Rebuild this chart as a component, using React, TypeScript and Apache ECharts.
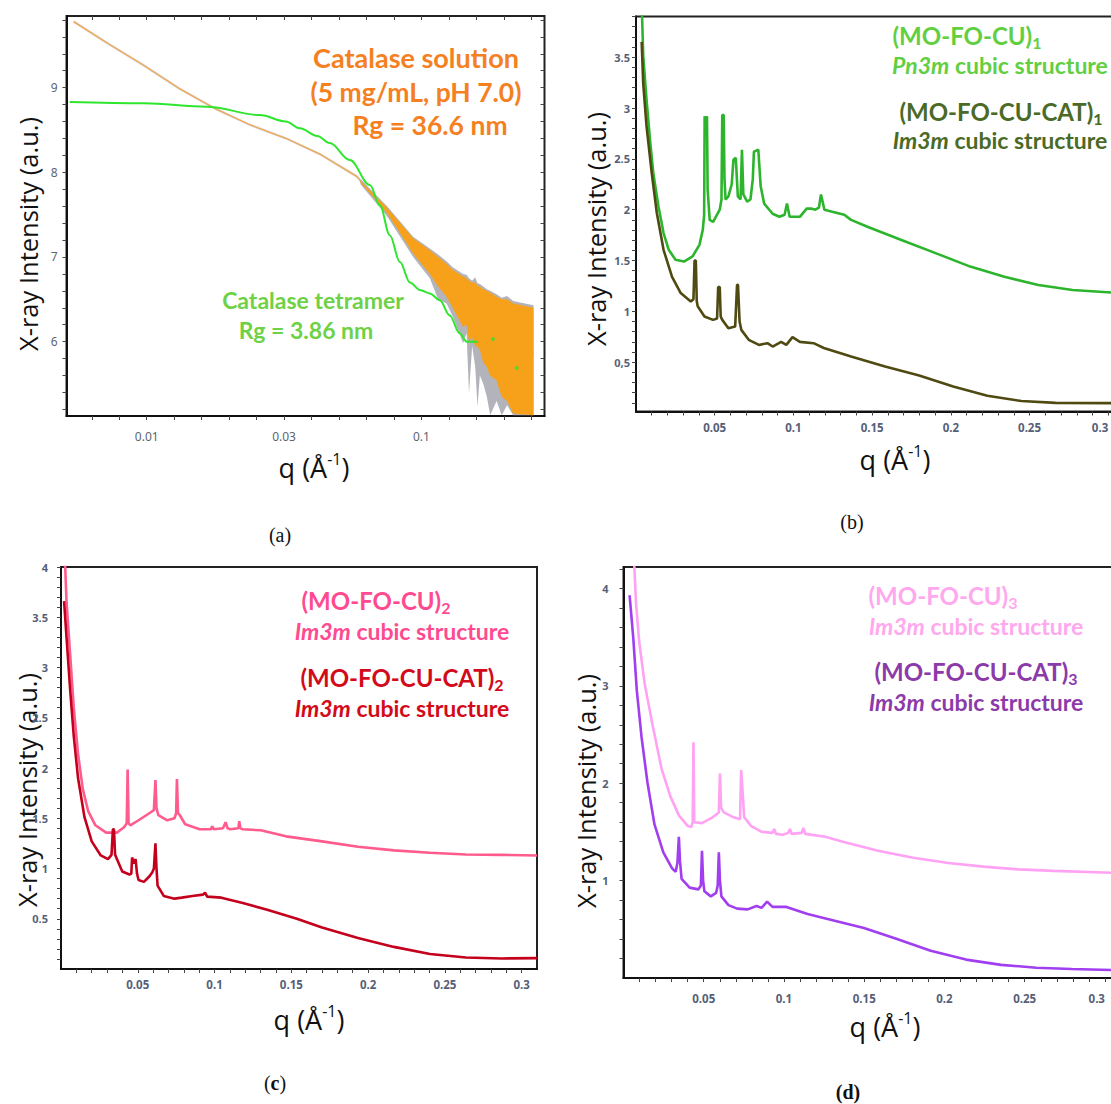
import React, { useEffect, useRef } from "react";
import * as echarts from "echarts";

// ---------- Panel (a): catalase solution vs. tetramer model (q on a log scale) ----------
const qSolution = [0.00542, 0.0072, 0.00971, 0.01309, 0.01765, 0.02383, 0.03208, 0.04325, 0.0583, 0.07194, 0.0914, 0.1233, 0.1663, 0.2244, 0.2559];
const iSolution = [9.78, 9.524, 9.268, 8.992, 8.756, 8.559, 8.402, 8.205, 7.949, 7.594, 7.15, 6.74, 6.3, 5.95, 5.85];

// scatter envelope of the measured solution curve at high q
const qNoise = [0.06, 0.075, 0.0933, 0.1073, 0.115, 0.1234, 0.13, 0.1418, 0.146, 0.149, 0.153, 0.157, 0.16, 0.1632, 0.168, 0.173, 0.178, 0.1877, 0.196, 0.205, 0.2157, 0.2559];
const noiseGrayTop = [7.92, 7.6, 7.24, 7.1, 7.03, 6.95, 6.88, 6.8, 6.79, 6.75, 6.72, 6.76, 6.69, 6.68, 6.65, 6.62, 6.6, 6.56, 6.52, 6.54, 6.48, 6.43];
const noiseGrayBottom = [7.86, 7.48, 7.0, 6.75, 6.5, 6.45, 6.3, 5.98, 6.1, 5.39, 5.95, 5.7, 5.23, 5.6, 5.5, 5.35, 5.13, 5.3, 5.13, 5.25, 5.13, 5.13];
const noiseOrangeTop = [7.9, 7.58, 7.22, 7.08, 7.0, 6.92, 6.85, 6.77, 6.75, 6.72, 6.7, 6.7, 6.66, 6.65, 6.62, 6.6, 6.58, 6.53, 6.5, 6.5, 6.45, 6.4];
const noiseOrangeBottom = [7.88, 7.52, 7.04, 6.8, 6.65, 6.53, 6.4, 6.17, 6.2, 6.0, 6.05, 5.95, 5.94, 5.9, 5.75, 5.7, 5.6, 5.54, 5.35, 5.3, 5.15, 5.13];

const qTetramer = [0.00525, 0.0098, 0.01655, 0.0258, 0.0321, 0.0361, 0.0418, 0.0464, 0.0549, 0.0649, 0.0706, 0.0767, 0.0835, 0.0908, 0.0987, 0.1072, 0.1166, 0.1268, 0.1378, 0.1462, 0.1603];
const iTetramer = [8.83, 8.815, 8.775, 8.676, 8.6, 8.52, 8.43, 8.345, 8.144, 7.849, 7.61, 7.258, 6.94, 6.7, 6.61, 6.57, 6.49, 6.31, 6.1, 6.0, 6.0];
const qTetramerTail = [0.182, 0.222];
const iTetramerTail = [6.03, 5.69];

const qLabelPosA = [-2, -1.5, -1];
const qLabelsA = ["0.01", "0.03", "0.1"];
const iLabelPosA = [6, 7, 8, 9];
const iLabelsA = ["6", "7", "8", "9"];

// ---------- Panel (b) ----------
const qCu1 = [0.0033, 0.0046, 0.0067, 0.0089, 0.011, 0.0143, 0.0175, 0.0208, 0.0251, 0.0305, 0.0359, 0.0403, 0.0424, 0.0433, 0.0436, 0.0445, 0.0451, 0.0455, 0.0468, 0.049, 0.0532, 0.0543, 0.0548, 0.0557, 0.0562, 0.0569, 0.0587, 0.0608, 0.0619, 0.0634, 0.0641, 0.0647, 0.0664, 0.0673, 0.0682, 0.0706, 0.0727, 0.0742, 0.0749, 0.0777, 0.0792, 0.0814, 0.0868, 0.0911, 0.0944, 0.0959, 0.0976, 0.1041, 0.1084, 0.1117, 0.1139, 0.1162, 0.1175, 0.1197, 0.1247, 0.1323, 0.1366, 0.1474, 0.169, 0.1907, 0.2123, 0.234, 0.2556, 0.2773, 0.3028, 0.31];
const iCu1 = [4.2, 3.51, 3.08, 2.69, 2.36, 2.03, 1.77, 1.605, 1.507, 1.49, 1.54, 1.654, 1.8, 1.95, 2.92, 2.85, 2.92, 2.2, 1.9, 1.88, 2.0, 2.1, 2.93, 2.93, 2.3, 2.1, 2.13, 2.25, 2.49, 2.51, 2.3, 2.13, 2.1, 2.59, 2.15, 2.08, 2.1, 2.3, 2.57, 2.59, 2.23, 2.06, 1.96, 1.93, 1.95, 2.06, 1.93, 1.93, 2.01, 2.01, 2.0, 2.02, 2.15, 2.0, 1.98, 1.95, 1.9, 1.83, 1.7, 1.57, 1.44, 1.34, 1.26, 1.21, 1.185, 1.18];
const qCat1 = [0.0036, 0.0046, 0.0067, 0.01, 0.0132, 0.0175, 0.0229, 0.0284, 0.0348, 0.0365, 0.0372, 0.038, 0.0386, 0.0392, 0.0435, 0.0489, 0.0515, 0.0522, 0.0532, 0.0538, 0.0548, 0.0587, 0.063, 0.0642, 0.0648, 0.0658, 0.0669, 0.0716, 0.0781, 0.0835, 0.0868, 0.0922, 0.0955, 0.0994, 0.1041, 0.1128, 0.1193, 0.1366, 0.1582, 0.1799, 0.2015, 0.2232, 0.2448, 0.2665, 0.3028, 0.31];
const iCat1 = [3.65, 3.24, 2.82, 2.36, 1.97, 1.605, 1.34, 1.18, 1.097, 1.12, 1.5, 1.5, 1.1, 1.05, 0.95, 0.916, 0.93, 1.24, 1.24, 0.95, 0.916, 0.834, 0.85, 1.26, 1.26, 0.9, 0.818, 0.72, 0.67, 0.687, 0.654, 0.7, 0.67, 0.746, 0.7, 0.687, 0.64, 0.556, 0.457, 0.37, 0.26, 0.17, 0.118, 0.1, 0.097, 0.097];
const iLabelPosB = [0.5, 1, 1.5, 2, 2.5, 3, 3.5];
const iLabelsB = ["0,5", "1", "1.5", "2", "2.5", "3", "3.5"];

// ---------- Panel (c) ----------
const qCu2 = [0.002, 0.0036, 0.006, 0.0083, 0.0111, 0.0142, 0.0177, 0.0224, 0.0294, 0.0364, 0.0411, 0.0428, 0.0434, 0.044, 0.0451, 0.0505, 0.0575, 0.0605, 0.0615, 0.0622, 0.0634, 0.0692, 0.0739, 0.075, 0.0755, 0.0762, 0.0774, 0.0809, 0.0903, 0.0975, 0.0985, 0.0995, 0.1055, 0.1072, 0.1085, 0.1102, 0.1155, 0.1161, 0.1168, 0.1184, 0.1301, 0.1465, 0.17, 0.1934, 0.2168, 0.2403, 0.2637, 0.2871, 0.31];
const iCu2 = [4.3, 3.65, 3.12, 2.6, 2.14, 1.79, 1.57, 1.43, 1.357, 1.357, 1.41, 1.45, 1.986, 1.45, 1.43, 1.48, 1.55, 1.58, 1.88, 1.6, 1.53, 1.48, 1.5, 1.55, 1.89, 1.55, 1.53, 1.44, 1.39, 1.39, 1.42, 1.39, 1.4, 1.46, 1.4, 1.39, 1.4, 1.47, 1.4, 1.39, 1.38, 1.32, 1.27, 1.217, 1.18, 1.157, 1.14, 1.136, 1.13];
const qCat2 = [0.002, 0.0036, 0.006, 0.0083, 0.0111, 0.0153, 0.02, 0.0259, 0.0306, 0.0329, 0.0338, 0.0345, 0.0352, 0.0364, 0.0399, 0.0446, 0.0458, 0.0463, 0.0475, 0.0486, 0.0495, 0.0505, 0.054, 0.0575, 0.0594, 0.0605, 0.0615, 0.0622, 0.0629, 0.0669, 0.0739, 0.0786, 0.0856, 0.0925, 0.0938, 0.0952, 0.1044, 0.1184, 0.1348, 0.1536, 0.17, 0.1934, 0.2168, 0.2403, 0.2637, 0.2871, 0.31];
const iCat2 = [3.66, 3.3, 2.77, 2.32, 1.9, 1.51, 1.27, 1.13, 1.094, 1.136, 1.39, 1.39, 1.14, 1.094, 0.97, 0.94, 0.95, 1.11, 1.05, 1.094, 0.95, 0.885, 0.867, 0.92, 0.96, 1.0, 1.25, 1.0, 0.83, 0.727, 0.7, 0.71, 0.727, 0.74, 0.76, 0.72, 0.71, 0.657, 0.587, 0.5, 0.413, 0.308, 0.22, 0.15, 0.115, 0.105, 0.108];
const iLabelPosC = [0.5, 1, 1.5, 2, 2.5, 3, 3.5, 4];
const iLabelsC = ["0.5", "1", "1.5", "2", "2.5", "3", "3.5", "4"];

// ---------- Panel (d) ----------
const qCu3 = [0.0064, 0.0078, 0.0098, 0.0132, 0.0182, 0.0237, 0.0292, 0.0346, 0.0401, 0.0423, 0.0431, 0.0436, 0.0441, 0.0489, 0.0555, 0.0594, 0.0601, 0.0608, 0.0625, 0.0686, 0.0726, 0.0733, 0.0739, 0.0752, 0.0796, 0.0862, 0.0928, 0.0939, 0.095, 0.0993, 0.1026, 0.1037, 0.1048, 0.111, 0.1121, 0.1132, 0.1257, 0.1366, 0.1586, 0.1805, 0.2024, 0.2243, 0.2463, 0.2682, 0.305, 0.31];
const iCu3 = [4.35, 3.85, 3.45, 3.02, 2.59, 2.15, 1.865, 1.667, 1.56, 1.55, 1.6, 2.42, 1.6, 1.59, 1.65, 1.7, 2.1, 1.75, 1.7, 1.65, 1.63, 2.135, 2.0, 1.65, 1.56, 1.5, 1.49, 1.53, 1.48, 1.47, 1.49, 1.53, 1.48, 1.49, 1.54, 1.48, 1.45, 1.4, 1.306, 1.234, 1.18, 1.144, 1.115, 1.1, 1.08, 1.08];
const qCat3 = [0.0038, 0.0061, 0.0083, 0.0112, 0.0149, 0.0193, 0.0248, 0.0303, 0.0325, 0.0336, 0.0345, 0.0352, 0.0362, 0.0412, 0.0467, 0.0482, 0.0489, 0.0496, 0.0504, 0.0544, 0.0577, 0.0587, 0.0594, 0.0601, 0.061, 0.0654, 0.0708, 0.0774, 0.0829, 0.086, 0.0895, 0.0928, 0.1015, 0.1147, 0.1322, 0.1498, 0.1695, 0.1914, 0.2134, 0.2353, 0.2572, 0.2792, 0.305, 0.31];
const iCat3 = [3.93, 3.49, 2.95, 2.48, 2.01, 1.577, 1.29, 1.126, 1.09, 1.18, 1.45, 1.2, 1.018, 0.928, 0.91, 0.95, 1.306, 1.0, 0.89, 0.838, 0.874, 0.95, 1.29, 1.0, 0.838, 0.748, 0.712, 0.705, 0.74, 0.72, 0.784, 0.73, 0.73, 0.658, 0.586, 0.514, 0.405, 0.279, 0.189, 0.135, 0.106, 0.092, 0.081, 0.08];
const iLabelPosD = [1, 2, 3, 4];
const iLabelsD = ["1", "2", "3", "4"];

// shared linear q axis labels for (b)-(d)
const qLabelPos = [0.05, 0.1, 0.15, 0.2, 0.25, 0.3];
const qLabels = ["0.05", "0.1", "0.15", "0.2", "0.25", "0.3"];

const FONT_NOTE = "Lato";
const FONT_AXIS = "Open Sans";
const FONT_TICK = "Noto Sans";
const FONT_PANEL = "Liberation Serif";

function steps(from: number, to: number, step: number): number[] {
  const out: number[] = [];
  for (let k = Math.round(from / step); k * step <= to + 1e-9; k++) out.push(+(k * step).toFixed(6));
  return out;
}

function lookup(v: number, pos: number[], texts: string[]) {
  const k = pos.findIndex((p) => Math.abs(p - v) < 1e-6);
  return k >= 0 ? texts[k] : "";
}

function pairs(xs: number[], ys: number[], logX = false) {
  const n = Math.min(xs.length, ys.length);
  const out: number[][] = [];
  for (let k = 0; k < n; k++) out.push([logX ? Math.log10(xs[k]) : xs[k], ys[k]]);
  return out;
}

type AxisOpts = {
  position: string;
  ticks: number[];
  labelPos?: number[];
  labels?: string[];
  margin?: number;
  inside?: boolean;
  line?: boolean;
  color?: string;
  weight?: string;
  fontSize?: number;
  alignLast?: string;
};

function axis(gridIndex: number, min: number, max: number, o: AxisOpts) {
  return {
    type: "value",
    gridIndex,
    min,
    max,
    position: o.position,
    axisLine: { show: o.line !== false, onZero: false, lineStyle: { color: "#111", width: 2 } },
    axisTick: { show: true, inside: !!o.inside, length: 4, customValues: o.ticks, lineStyle: { color: "#444", width: 1 } },
    axisLabel: o.labels
      ? {
          show: true,
          customValues: o.labelPos,
          formatter: (v: number) => lookup(v, o.labelPos!, o.labels!),
          margin: o.margin ?? 8,
          color: o.color ?? "#556078",
          fontWeight: o.weight ?? "bold",
          fontSize: o.fontSize ?? 11.5,
          fontFamily: FONT_TICK,
          ...(o.alignLast ? { alignMaxLabel: o.alignLast } : {}),
        }
      : { show: false },
    splitLine: { show: false },
  };
}

function line(xi: number, yi: number, data: number[][], color: string, width: number, extra: any = {}) {
  return {
    type: "line",
    xAxisIndex: xi,
    yAxisIndex: yi,
    data,
    symbol: "none",
    showSymbol: false,
    silent: true,
    lineStyle: { color, width },
    ...extra,
  };
}

// filled band between an upper and a lower edge, drawn in panel (a)'s coordinates
function band(q: number[], top: number[], bottom: number[], fill: string, opacity: number, z: number) {
  return {
    type: "custom",
    xAxisIndex: 0,
    yAxisIndex: 0,
    silent: true,
    z,
    data: [[Math.log10(q[0]), top[0]]],
    renderItem: (_p: any, api: any) => {
      const pts: number[][] = [];
      for (let k = 0; k < q.length; k++) pts.push(api.coord([Math.log10(q[k]), top[k]]));
      for (let k = q.length - 1; k >= 0; k--) pts.push(api.coord([Math.log10(q[k]), bottom[k]]));
      return { type: "polygon", shape: { points: pts }, style: { fill, opacity } };
    },
  };
}

function noteRich(color: string, big: number, small: number) {
  const base = { fontFamily: FONT_NOTE, fontWeight: "bold", fill: color };
  return {
    m: { ...base, fontSize: big, lineHeight: big + 6, verticalAlign: "middle" },
    s: { ...base, fontSize: Math.round(big * 0.65), lineHeight: 18, verticalAlign: "bottom" },
    i: { ...base, fontStyle: "italic", fontSize: small },
    n: { ...base, fontSize: small },
  };
}

function note(text: string, x: number, y: number, color: string, big = 24, small = 23) {
  return {
    type: "text",
    x,
    y,
    silent: true,
    style: { text, align: "center", verticalAlign: "middle", fill: color, rich: noteRich(color, big, small) },
  };
}

function yTitle(x: number, y: number) {
  return {
    type: "text",
    x,
    y,
    rotation: Math.PI / 2,
    silent: true,
    style: { text: "X-ray Intensity (a.u.)", align: "center", verticalAlign: "middle", fill: "#111", fontFamily: FONT_AXIS, fontSize: 25.5 },
  };
}

function qTitle(x: number, y: number) {
  return {
    type: "text",
    x,
    y,
    silent: true,
    style: {
      text: "{m|q (Å}{u|-1}{m|)}",
      align: "center",
      verticalAlign: "middle",
      fill: "#111",
      rich: {
        m: { fontFamily: FONT_AXIS, fontSize: 27, fill: "#111", lineHeight: 32, verticalAlign: "middle" },
        u: { fontFamily: FONT_AXIS, fontSize: 16, fill: "#111", lineHeight: 17, verticalAlign: "top" },
      },
    },
  };
}

function panelLetter(text: string, x: number, y: number) {
  return {
    type: "text",
    x,
    y,
    silent: true,
    style: {
      text,
      align: "center",
      verticalAlign: "middle",
      fill: "#111",
      rich: {
        r: { fontFamily: FONT_PANEL, fontSize: 20, fill: "#111" },
        b: { fontFamily: FONT_PANEL, fontSize: 20, fontWeight: "bold", fill: "#111" },
      },
    },
  };
}

function buildOption() {
  const grids = [
    { left: 66.5, top: 16, width: 478, height: 400 },
    { left: 636, top: 16.5, width: 488, height: 395 },
    { left: 61, top: 567, width: 476, height: 402 },
    { left: 623.5, top: 567, width: 497.5, height: 411 },
  ].map((g) => ({ ...g, show: true, borderColor: "#222", borderWidth: 2, backgroundColor: "transparent" }));

  const tickAX = steps(-2.2, -0.6, 0.1);
  const tickAY = steps(5.2, 9.8, 0.2);
  const tickQ = steps(0.01, 0.31, 0.01);

  const xAxis = [
    axis(0, -2.292, -0.552, { position: "bottom", ticks: tickAX, labelPos: qLabelPosA, labels: qLabelsA, margin: 14, color: "#5d6470", weight: "normal", fontSize: 12 }),
    axis(1, 0, 0.31, { position: "bottom", ticks: tickQ, labelPos: qLabelPos, labels: qLabels, margin: 10, alignLast: "right" }),
    axis(2, 0, 0.31, { position: "bottom", ticks: steps(0.01, 0.3, 0.01), labelPos: qLabelPos, labels: qLabels, margin: 9 }),
    axis(3, 0, 0.31, { position: "bottom", ticks: tickQ, labelPos: qLabelPos, labels: qLabels, margin: 14, alignLast: "right" }),
    axis(0, -2.292, -0.552, { position: "top", ticks: tickAX, inside: true, line: false }),
  ];
  const yAxis = [
    axis(0, 5.122, 9.846, { position: "left", ticks: tickAY, labelPos: iLabelPosA, labels: iLabelsA, margin: 9, color: "#5d6470", weight: "normal", fontSize: 12 }),
    axis(1, 0.015, 3.9, { position: "left", ticks: steps(0.1, 3.9, 0.1), labelPos: iLabelPosB, labels: iLabelsB, margin: 6, fontSize: 11 }),
    axis(2, 0, 4, { position: "left", ticks: steps(0.1, 4, 0.1), labelPos: iLabelPosC, labels: iLabelsC, margin: 13, fontSize: 11 }),
    axis(3, 0, 4.22, { position: "left", ticks: steps(0.2, 4.2, 0.2), labelPos: iLabelPosD, labels: iLabelsD, margin: 15, fontSize: 11 }),
    axis(0, 5.122, 9.846, { position: "right", ticks: tickAY, inside: true, line: false }),
  ];

  const series: any[] = [
    // (a): thin measured curve with a faint grey halo, then the noisy high-q envelope over it
    line(0, 0, pairs(qSolution, iSolution, true), "rgba(140,140,150,0.35)", 2.4, { z: 2 }),
    line(0, 0, pairs(qSolution, iSolution, true), "#f1a851", 1.3, { z: 2 }),
    band(qNoise, noiseGrayTop, noiseGrayBottom, "#ababb4", 0.9, 3),
    band(qNoise, noiseOrangeTop, noiseOrangeBottom, "#f7a11a", 1, 4),
    line(0, 0, pairs(qTetramer, iTetramer, true), "#2fe62f", 2, { smooth: 0.35, smoothMonotone: "x", z: 5 }),
    {
      type: "scatter",
      xAxisIndex: 0,
      yAxisIndex: 0,
      silent: true,
      z: 5,
      symbolSize: 4,
      itemStyle: { color: "#2fe62f" },
      data: pairs(qTetramerTail, iTetramerTail, true),
    },
    // (b)
    line(1, 1, pairs(qCu1, iCu1), "#2cb52c", 2.6),
    line(1, 1, pairs(qCat1, iCat1), "#4f4a12", 2.6),
    // (c)
    line(2, 2, pairs(qCu2, iCu2), "#ff5b8c", 2.6),
    line(2, 2, pairs(qCat2, iCat2), "#c4001c", 2.6),
    // (d)
    line(3, 3, pairs(qCu3, iCu3), "#ffa2f4", 2.6),
    line(3, 3, pairs(qCat3, iCat3), "#a03ef0", 2.6),
  ];

  const orange = "#f5801f";
  const lime = "#6fd146";
  const graphic = [
    // panel (a) notes
    note("{m|Catalase solution}", 416, 57, orange, 27),
    note("{m|(5 mg/mL, pH 7.0)}", 416, 92, orange, 26.5),
    note("{m|Rg = 36.6 nm}", 430, 125, orange, 26.5),
    note("{m|Catalase tetramer}", 313, 300, lime, 23),
    note("{m|Rg = 3.86 nm}", 306, 330, lime, 23),
    // panel (b) notes
    note("{m|(MO-FO-CU)}{s|1}", 967, 35, "#62cf42"),
    note("{i|Pn3m}{n| cubic structure}", 1000, 65, "#62cf42"),
    note("{m|(MO-FO-CU-CAT)}{s|1}", 1001, 111, "#4a6a26"),
    note("{i|Im3m}{n| cubic structure}", 1000, 140, "#4a6a26"),
    // panel (c) notes
    note("{m|(MO-FO-CU)}{s|2}", 376, 600, "#ff4a90"),
    note("{i|Im3m}{n| cubic structure}", 402, 631, "#ff4a90"),
    note("{m|(MO-FO-CU-CAT)}{s|2}", 402, 677, "#d20a1a"),
    note("{i|Im3m}{n| cubic structure}", 402, 708, "#d20a1a"),
    // panel (d) notes
    note("{m|(MO-FO-CU)}{s|3}", 943, 595, "#ffa8ee"),
    note("{i|Im3m}{n| cubic structure}", 976, 626, "#ffa8ee"),
    note("{m|(MO-FO-CU-CAT)}{s|3}", 976, 671, "#8c3aa9"),
    note("{i|Im3m}{n| cubic structure}", 976, 702, "#8c3aa9"),
    // axis titles
    yTitle(28, 234),
    yTitle(596, 229),
    yTitle(27, 790),
    yTitle(586, 791),
    qTitle(314, 467),
    qTitle(895, 459),
    qTitle(309, 1019),
    qTitle(885, 1026),
    // panel letters
    panelLetter("{r|(a)}", 280, 535),
    panelLetter("{r|(b)}", 852, 522),
    panelLetter("{r|(}{b|c}{r|)}", 275, 1083),
    panelLetter("{b|(d)}", 848, 1092),
  ];

  return {
    animation: false,
    backgroundColor: "#ffffff",
    textStyle: { fontFamily: FONT_TICK },
    grid: grids,
    xAxis,
    yAxis,
    series,
    graphic,
  };
}

export default function App() {
  const ref = useRef<HTMLDivElement>(null);
  useEffect(() => {
    if (!ref.current) return;
    const chart = echarts.init(ref.current, null, { renderer: "svg" });
    chart.setOption(buildOption() as any);
    return () => chart.dispose();
  }, []);
  return (
    <div style={{ position: "fixed", left: 0, top: 0, width: 1111, height: 1104, overflow: "hidden", background: "#fff" }}>
      <div ref={ref} style={{ width: 1140, height: 1104 }} />
    </div>
  );
}
